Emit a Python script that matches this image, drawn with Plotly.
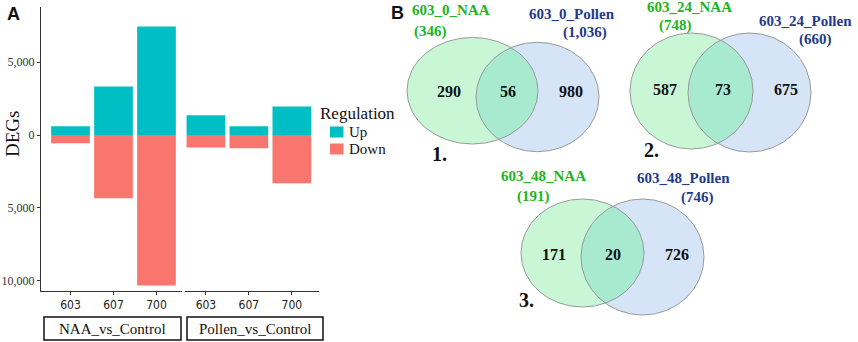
import numpy as np
import plotly.graph_objects as go

W, H = 858, 342

# ---------------- data ----------------
cultivars = ["603", "607", "700"]
groups = ["NAA_vs_Control", "Pollen_vs_Control"]
naa_up = [600, 3330, 7450]
naa_down = [560, 4340, 10340]
pollen_up = [1360, 600, 1960]
pollen_down = [860, 910, 3310]

ytick_vals = [5000, 0, -5000, -10000]
ytick_text = ["5,000", "0", "5,000", "10,000"]

legend_title = "Regulation"
legend_items = ["Up", "Down"]

venn_titles = [("603_0_NAA", "603_0_Pollen"),
               ("603_24_NAA", "603_24_Pollen"),
               ("603_48_NAA", "603_48_Pollen")]
venn_totals = [("(346)", "(1,036)"), ("(748)", "(660)"), ("(191)", "(746)")]
venn_counts = [(290, 56, 980), (587, 73, 675), (171, 20, 726)]
venn_tags = ["1.", "2.", "3."]

UP_C = "#00BFC4"
DOWN_C = "#F8766D"
SERIF = "Liberation Serif, Times New Roman, serif"
NARROW = "Liberation Sans Narrow, DejaVu Sans Condensed, sans-serif"
GREEN_T = "#1db51d"
BLUE_T = "#1f3a8a"


def px(x):
    return x / W


def py(y):
    return 1 - y / H


fig = go.Figure()

# ---------------- bars ----------------
for i, (ups, downs) in enumerate([(naa_up, naa_down), (pollen_up, pollen_down)]):
    xa = "x" if i == 0 else "x2"
    ya = "y" if i == 0 else "y2"
    fig.add_trace(go.Bar(x=cultivars, y=ups, name=legend_items[0], marker_color=UP_C,
                         width=0.9, xaxis=xa, yaxis=ya, showlegend=False,
                         marker_line_width=0))
    fig.add_trace(go.Bar(x=cultivars, y=[-d for d in downs], name=legend_items[1],
                         marker_color=DOWN_C, width=0.9, xaxis=xa, yaxis=ya,
                         showlegend=False, marker_line_width=0))

ydom = [py(290.7), py(7)]
yrange = [-10694, 8791]
axis_common = dict(showline=True, linecolor="#333", linewidth=1, ticks="outside",
                   ticklen=3, tickcolor="#333", showgrid=False, zeroline=False)

fig.update_layout(
    xaxis=dict(domain=[px(41), px(182)], range=[-0.686, 2.593], type="category",
               tickfont=dict(family=NARROW, size=12, color="#222"), **axis_common),
    xaxis2=dict(domain=[px(184.5), px(319)], range=[-0.499, 2.633], type="category",
                anchor="y2", tickfont=dict(family=NARROW, size=12, color="#222"),
                **axis_common),
    yaxis=dict(domain=ydom, range=yrange, tickvals=ytick_vals, ticktext=ytick_text,
               tickfont=dict(family=SERIF, size=12, color="#333"), **axis_common),
    yaxis2=dict(domain=ydom, range=yrange, anchor="x2", matches="y",
                showticklabels=False, showline=False, ticks="", showgrid=False,
                zeroline=False),
    barmode="relative",
    width=W, height=H,
    margin=dict(l=0, r=0, t=0, b=0),
    plot_bgcolor="white", paper_bgcolor="white",
    showlegend=False,
)

shapes = []
annotations = []

# legend (drawn manually to match the ggplot key)
annotations.append(dict(x=px(318), y=py(113), xref="paper", yref="paper", text=legend_title,
                        showarrow=False, xanchor="left", yanchor="middle",
                        font=dict(family=SERIF, size=17, color="#111")))
for (y0, y1), col, lab in zip([(126.5, 137.5), (143.5, 154.5)], [UP_C, DOWN_C], legend_items):
    shapes.append(dict(type="rect", xref="paper", yref="paper", x0=px(330), x1=px(343.5),
                       y0=py(y1), y1=py(y0), fillcolor=col, line=dict(width=0)))
    annotations.append(dict(x=px(346.5), y=py((y0 + y1) / 2), xref="paper", yref="paper",
                            text=lab, showarrow=False, xanchor="left", yanchor="middle",
                            font=dict(family=SERIF, size=15, color="#111")))

# strip boxes
strips = [(44, 181), (187, 323)]
for (x0, x1), g in zip(strips, groups):
    shapes.append(dict(type="rect", xref="paper", yref="paper",
                       x0=px(x0), x1=px(x1), y0=py(340), y1=py(317),
                       line=dict(color="#111", width=1.5), fillcolor="white"))
    annotations.append(dict(x=px((x0 + x1) / 2), y=py(328.5), xref="paper", yref="paper",
                            text=g, showarrow=False, xanchor="center", yanchor="middle",
                            font=dict(family=SERIF, size=15, color="#111")))

# y title
annotations.append(dict(x=px(12), y=py(134), xref="paper", yref="paper", text="DEGs",
                        textangle=-90, showarrow=False, xanchor="center", yanchor="middle",
                        font=dict(family=SERIF, size=19, color="#111")))

# panel letters
annotations.append(dict(x=px(13), y=py(14), xref="paper", yref="paper", text="<b>A</b>",
                        showarrow=False, xanchor="center", yanchor="middle",
                        font=dict(family="Liberation Sans, Arial, sans-serif", size=18, color="#111")))
annotations.append(dict(x=px(397), y=py(13), xref="paper", yref="paper", text="<b>B</b>",
                        showarrow=False, xanchor="center", yanchor="middle",
                        font=dict(family="Liberation Sans, Arial, sans-serif", size=18, color="#111")))

# ---------------- venn diagrams ----------------
venn_geom = [
    ((472.5, 90.7, 65.5, 53.3), (537.5, 97.0, 61.5, 54.7)),
    ((691.5, 91.0, 61.5, 58.0), (749.5, 92.5, 61.5, 59.5)),
    ((582.5, 253.0, 61.5, 54.0), (642.5, 257.0, 61.5, 58.0)),
]
title_pos = [
    ((450.5, 9.5), (430.5, 31), (572, 14), (584.5, 32.5)),
    ((689, 7.5), (675, 26), (805.5, 21), (815, 39)),
    ((543, 176), (533, 196.5), (683.5, 177.5), (697.5, 197.5)),
]
count_pos = [
    ((448.5, 91), (507.5, 91), (570.5, 91)),
    ((664.5, 90), (723, 90), (786, 90)),
    ((554, 254), (612.5, 254), (676.5, 254)),
]
tag_pos = [(440, 153.5), (651, 150), (526.5, 300)]


def inside(x, y, e):
    cx, cy, rx, ry = e
    return ((x - cx) / rx) ** 2 + ((y - cy) / ry) ** 2 <= 1


def lens_path(L, R):
    t1 = np.linspace(-np.pi, np.pi, 721)
    x1 = L[0] + L[2] * np.cos(t1)
    y1 = L[1] + L[3] * np.sin(t1)
    m1 = inside(x1, y1, R)
    t2 = np.linspace(0, 2 * np.pi, 721)
    x2 = R[0] + R[2] * np.cos(t2)
    y2 = R[1] + R[3] * np.sin(t2)
    m2 = inside(x2, y2, L)
    xs = np.concatenate([x1[m1], x2[m2]])
    ys = np.concatenate([y1[m1], y2[m2]])
    pts = [f"{px(a):.5f},{py(b):.5f}" for a, b in zip(xs, ys)]
    return "M" + " L".join(pts) + " Z"


def ell(e, fill, line):
    cx, cy, rx, ry = e
    return dict(type="circle", xref="paper", yref="paper",
                x0=px(cx - rx), x1=px(cx + rx), y0=py(cy + ry), y1=py(cy - ry),
                fillcolor=fill, line=line, layer="above")


for k, (L, R) in enumerate(venn_geom):
    shapes.append(ell(L, "#c9f7d6", dict(width=0)))
    shapes.append(ell(R, "#d5e4f7", dict(width=0)))
    shapes.append(dict(type="path", xref="paper", yref="paper", path=lens_path(L, R),
                       fillcolor="#a7ead0", line=dict(width=0), layer="above"))
    shapes.append(ell(L, "rgba(0,0,0,0)", dict(color="#9a9a9a", width=1)))
    shapes.append(ell(R, "rgba(0,0,0,0)", dict(color="#9a9a9a", width=1)))

    (tl, tlc, tr, trc) = title_pos[k]
    for (xy, txt, col) in [(tl, venn_titles[k][0], GREEN_T), (tlc, venn_totals[k][0], GREEN_T),
                           (tr, venn_titles[k][1], BLUE_T), (trc, venn_totals[k][1], BLUE_T)]:
        annotations.append(dict(x=px(xy[0]), y=py(xy[1]), xref="paper", yref="paper",
                                text=f"<b>{txt}</b>", showarrow=False, xanchor="center",
                                yanchor="middle", font=dict(family=SERIF, size=15, color=col)))
    for xy, c in zip(count_pos[k], venn_counts[k]):
        annotations.append(dict(x=px(xy[0]), y=py(xy[1]), xref="paper", yref="paper",
                                text=f"<b>{c}</b>", showarrow=False, xanchor="center",
                                yanchor="middle", font=dict(family=SERIF, size=16, color="#111")))
    annotations.append(dict(x=px(tag_pos[k][0]), y=py(tag_pos[k][1]), xref="paper", yref="paper",
                            text=f"<b>{venn_tags[k]}</b>", showarrow=False, xanchor="center",
                            yanchor="middle", font=dict(family=SERIF, size=20, color="#111")))

fig.update_layout(shapes=shapes, annotations=annotations)
fig.write_html("out.html", config={"displayModeBar": False},
               post_script="document.body.style.margin='0';document.body.style.padding='0';")
